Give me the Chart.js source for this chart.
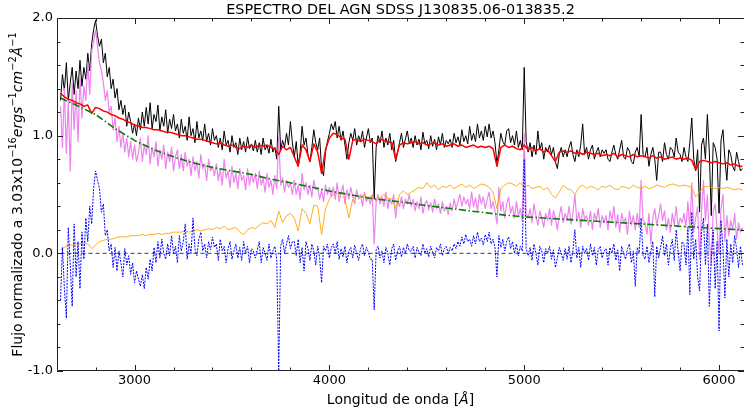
<!DOCTYPE html>
<html>
<head>
<meta charset="utf-8">
<script src="https://cdn.jsdelivr.net/npm/chart.js@4.4.0/dist/chart.umd.min.js"></script>
<style>
  html, body { margin: 0; padding: 0; background: #fff; }
  #wrap { width: 744px; height: 411px; }
</style>
</head>
<body>
<div id="wrap"><canvas id="myChart" width="744" height="411"></canvas></div>
<script>
const fineStart = 2620, fineStep = 10;
// model components sampled every 20 A from 2620 A
const coarseStart = 2620, coarseStep = 20;

const observed = [
  1.30,1.52,1.38,1.62,1.30,1.45,1.58,1.35,1.55,1.40, 1.64,1.42,1.58,1.48,1.70,1.55,1.78,1.90,1.98,1.85,
  1.76,1.82,1.62,1.70,1.50,1.58,1.40,1.48,1.32,1.40, 1.22,1.30,1.18,1.26,1.08,1.20,1.12,1.02,1.10,1.00,
  1.15,1.05,1.20,1.08,1.24,1.10,1.28,1.06,1.18,1.12, 1.26,1.04,1.16,1.08,1.22,1.02,1.14,1.06,1.18,1.04,
  1.10,0.98,1.14,1.02,1.08,0.96,1.16,1.00,1.06,0.94, 1.12,0.98,1.04,0.96,1.10,0.95,1.02,0.92,1.06,0.96,
  1.00,0.90,0.98,0.88,1.04,0.92,0.96,0.86,1.00,0.90, 0.94,0.84,0.98,0.88,0.95,0.86,0.99,0.89,0.93,0.87,
  0.96,0.86,0.94,0.84,0.98,0.88,0.92,0.85,0.97,0.86, 0.90,0.80,1.25,0.88,0.96,0.90,1.02,0.92,1.12,0.94,
  0.82,0.95,0.74,0.86,1.08,0.92,0.98,0.84,0.78,0.90, 1.05,0.94,0.88,0.98,0.72,0.66,0.86,0.95,1.02,1.10,
  1.05,1.12,0.98,1.08,0.96,1.04,0.92,0.80,0.94,1.02, 0.96,1.06,0.92,1.00,0.95,1.04,0.90,0.98,1.06,0.94,
  0.98,0.46,0.90,1.00,0.94,1.04,0.90,0.98,0.92,1.02, 0.88,0.96,0.78,0.86,0.94,1.02,0.90,0.97,1.04,0.93,
  0.98,0.90,1.00,0.92,0.97,0.88,1.03,0.93,0.96,0.89, 1.00,0.91,0.97,0.88,0.99,0.92,1.02,0.90,0.96,0.93,
  0.97,0.90,1.02,0.94,0.99,0.92,1.05,0.95,1.00,0.93, 1.08,0.96,1.02,0.95,1.10,0.98,1.04,0.96,1.08,0.99,
  1.10,0.98,1.04,0.94,0.76,0.88,1.02,0.95,0.92,1.04, 1.06,0.94,1.00,0.92,1.04,0.90,0.96,0.88,1.58,0.95,
  0.86,0.94,0.82,0.92,0.84,1.04,0.88,0.94,0.80,0.90, 0.86,0.92,0.84,0.90,0.78,0.72,0.84,0.90,0.82,0.88,
  0.82,0.90,0.95,0.84,0.78,0.88,0.82,0.92,1.10,0.84, 0.90,0.80,0.88,0.92,0.80,0.86,0.90,0.82,0.88,0.85,
  0.88,0.80,0.78,0.86,0.92,0.84,0.80,0.88,0.96,0.82, 0.80,0.90,0.87,0.78,0.76,0.86,0.90,0.82,1.18,0.84,
  0.82,0.90,0.74,0.84,0.90,0.80,0.62,0.86,0.86,0.78, 0.94,0.84,0.80,0.90,0.88,0.82,0.98,0.86,0.84,0.78,
  0.90,0.82,0.78,0.94,1.15,0.80,0.70,0.88,0.35,0.92, 0.98,0.80,1.18,0.86,0.32,0.94,0.90,0.80,0.34,0.96,
  1.05,0.80,0.62,0.88,0.84,0.74,0.70,0.86,0.78,0.70,0.72
];

const agn = [
  1.25,0.90,1.40,0.85,1.30,0.70,1.45,1.05,1.38,0.95, 1.50,1.15,1.42,1.30,1.62,1.35,1.72,1.80,1.90,1.76,
  1.62,1.55,1.45,1.30,1.38,1.20,1.25,1.05,1.15,0.95, 1.08,0.90,1.02,0.86,0.98,0.82,0.95,0.80,0.92,0.78,
  0.85,0.98,0.78,0.92,0.84,1.00,0.76,0.90,0.82,0.95, 0.74,0.88,0.80,0.92,0.72,0.86,0.78,0.90,0.70,0.82,
  0.88,0.72,0.84,0.70,0.86,0.74,0.80,0.66,0.82,0.70, 0.78,0.64,0.84,0.72,0.76,0.62,0.80,0.70,0.74,0.66,
  0.76,0.62,0.72,0.58,0.80,0.64,0.70,0.56,0.74,0.60, 0.68,0.55,0.72,0.62,0.66,0.54,0.72,0.58,0.68,0.60,
  0.68,0.55,0.70,0.58,0.64,0.52,0.68,0.56,0.62,0.50, 0.66,0.55,1.00,0.58,0.64,0.52,0.62,0.56,0.60,0.50,
  0.62,0.50,0.58,0.46,0.68,0.54,0.60,0.50,0.58,0.48, 0.62,0.54,0.56,0.46,0.54,0.44,0.58,0.50,0.56,0.48,
  0.56,0.46,0.60,0.44,0.52,0.58,0.42,0.54,0.46,0.56, 0.48,0.42,0.54,0.46,0.50,0.40,0.52,0.44,0.48,0.42,
  0.50,0.08,0.44,0.50,0.42,0.48,0.40,0.52,0.38,0.46, 0.42,0.50,0.30,0.44,0.40,0.48,0.38,0.46,0.42,0.50,
  0.40,0.46,0.36,0.44,0.38,0.48,0.34,0.42,0.45,0.37, 0.43,0.35,0.46,0.38,0.42,0.34,0.44,0.36,0.40,0.33,
  0.43,0.36,0.46,0.38,0.44,0.50,0.40,0.48,0.42,0.46, 0.38,0.52,0.40,0.47,0.36,0.50,0.42,0.48,0.38,0.46,
  0.52,0.38,0.44,0.36,0.25,0.56,0.36,0.44,0.30,0.42, 0.48,0.34,0.40,0.30,0.44,0.32,0.38,0.28,1.02,0.34,
  0.30,0.38,0.26,0.42,0.32,0.24,0.36,0.30,0.22,0.34, 0.28,0.38,0.24,0.36,0.30,0.20,0.32,0.40,0.26,0.34,
  0.28,0.40,0.25,0.34,0.50,0.27,0.35,0.22,0.38,0.29, 0.32,0.24,0.36,0.20,0.34,0.28,0.38,0.22,0.32,0.26,
  0.32,0.20,0.36,0.28,0.40,0.22,0.33,0.18,0.34,0.26, 0.30,0.16,0.36,0.24,0.32,0.20,0.34,0.22,0.62,0.28,
  0.26,0.16,0.34,0.08,0.30,0.38,0.24,0.32,0.42,0.28, 0.36,0.20,0.30,0.18,0.34,0.24,0.40,0.22,0.30,0.26,
  0.34,0.22,0.44,0.20,0.60,0.18,0.30,0.40,-0.05,0.36, 0.62,0.28,0.50,0.10,-0.10,0.36,0.42,0.20,0.00,0.38,
  0.50,0.10,0.32,0.15,0.28,0.20,0.34,0.12,0.26,0.18,0.22
];

const residual = [
  -0.40,0.05,-0.30,-0.55,0.22,-0.10,-0.45,0.25,-0.20,0.10, -0.30,0.18,-0.05,0.30,0.10,0.40,0.25,0.55,0.70,0.62,
  0.55,0.35,0.42,0.15,0.20,0.02,0.08,-0.12,0.05,-0.15, 0.02,-0.08,-0.20,0.04,-0.10,-0.02,-0.18,-0.08,-0.25,-0.15,
  -0.22,-0.28,-0.18,-0.30,-0.12,-0.22,-0.05,-0.15,0.05,-0.08, 0.10,-0.04,0.12,0.00,-0.05,0.08,-0.02,0.15,0.00,0.06,
  -0.08,0.15,0.02,0.10,0.25,-0.05,0.08,0.00,0.30,0.04, -0.02,0.12,0.18,0.02,0.08,-0.04,0.10,0.03,0.14,0.05,
  0.08,-0.06,0.12,0.02,0.06,-0.08,0.04,0.10,-0.05,0.02, 0.08,-0.04,0.05,-0.06,0.10,0.00,0.06,-0.08,0.04,0.02,
  -0.04,0.03,0.10,-0.08,0.05,0.00,-0.06,0.08,-0.04,0.02, 0.06,-0.05,-1.00,0.06,0.12,0.00,0.08,0.15,0.04,0.10,
  0.10,-0.02,0.12,-0.08,0.05,-0.15,0.10,0.04,-0.06,0.08, 0.02,-0.10,0.06,-0.04,-0.25,0.06,0.02,0.08,-0.04,0.05,
  0.08,0.00,0.10,-0.05,0.04,-0.03,0.06,-0.08,0.02,0.05, -0.04,0.07,0.00,-0.06,0.04,0.08,-0.02,0.05,0.01,-0.05,
  -0.05,-0.48,0.03,0.06,-0.04,0.02,-0.08,0.05,0.00,-0.10, 0.04,0.08,-0.06,0.02,0.06,-0.03,0.05,0.00,0.08,0.02,
  0.02,0.06,-0.04,0.05,0.01,-0.02,0.08,0.00,0.04,-0.03, 0.06,0.01,-0.04,0.05,0.02,0.08,-0.02,0.04,0.06,0.00,
  0.05,0.02,0.08,0.04,0.10,0.06,0.14,0.08,0.16,0.10, 0.12,0.06,0.15,0.08,0.18,0.10,0.13,0.07,0.16,0.10,
  0.18,0.08,0.12,0.05,-0.20,0.15,0.05,0.12,0.02,0.10, 0.14,0.04,0.10,0.00,0.08,-0.02,0.06,0.02,0.80,0.04,
  -0.02,0.05,-0.06,0.08,0.00,-0.10,0.06,0.02,-0.08,0.04, 0.00,0.06,-0.05,0.03,-0.12,-0.04,0.05,0.00,-0.06,0.04,
  -0.05,0.06,-0.08,0.02,0.20,-0.04,0.05,-0.12,0.06,0.00, 0.04,-0.06,0.08,-0.02,0.05,-0.10,0.03,0.06,-0.04,0.02,
  0.04,-0.10,0.05,0.00,0.08,-0.06,0.03,-0.15,0.06,0.00, -0.05,0.04,0.08,-0.08,0.02,-0.28,0.05,0.00,0.30,-0.02,
  -0.05,0.06,-0.08,0.02,0.10,-0.37,0.06,-0.04,0.05,0.15, -0.02,0.08,-0.10,0.04,0.12,-0.06,0.20,0.02,-0.15,0.10,
  0.08,-0.10,0.22,-0.35,0.35,-0.05,0.12,-0.20,-0.32,0.18, 0.30,-0.10,0.25,-0.45,-0.05,0.20,-0.30,0.10,-0.66,0.28,
  0.05,-0.38,0.12,-0.20,0.08,-0.08,0.15,0.04,-0.12,0.06,-0.10
];

const fitted = [
  1.36,1.33,1.31,1.30,1.28,1.27,1.25,1.26,1.19,1.24,
  1.23,1.21,1.20,1.18,1.17,1.15,1.14,1.12,1.11,1.09,
  1.08,1.07,1.07,1.06,1.05,1.05,1.04,1.03,1.03,1.02,
  1.01,1.00,1.00,0.99,0.98,0.97,0.97,0.96,0.95,0.94,
  0.93,0.94,0.92,0.91,0.92,0.90,0.89,0.91,0.90,0.92,
  0.90,0.92,0.91,0.92,0.90,0.89,0.84,0.91,0.88,0.90,
  0.82,0.74,0.92,0.88,0.78,0.93,0.86,0.68,0.88,0.98,
  1.02,1.01,0.98,0.97,0.80,0.96,0.97,0.95,0.97,0.96,
  0.95,0.93,0.97,0.96,0.95,0.94,0.80,0.92,0.94,0.93,
  0.94,0.95,0.93,0.94,0.92,0.93,0.94,0.92,0.93,0.91,
  0.92,0.93,0.91,0.92,0.90,0.91,0.92,0.90,0.91,0.90,
  0.91,0.89,0.74,0.90,0.92,0.90,0.91,0.89,0.88,0.92,
  0.88,0.90,0.87,0.89,0.86,0.88,0.83,0.78,0.86,0.87,
  0.86,0.87,0.85,0.86,0.84,0.86,0.85,0.84,0.85,0.83,
  0.84,0.83,0.85,0.82,0.84,0.83,0.82,0.84,0.82,0.83,
  0.82,0.81,0.83,0.81,0.82,0.80,0.81,0.82,0.80,0.81,
  0.80,0.81,0.79,0.71,0.78,0.79,0.78,0.77,0.78,0.77,
  0.76,0.77,0.75,0.76,0.74,0.74
];

const host = [
  0.03,0.05,0.07,0.07,0.08,0.08,0.09,0.08,0.04,0.07,
  0.10,0.11,0.12,0.12,0.13,0.14,0.14,0.14,0.15,0.15,
  0.15,0.16,0.15,0.16,0.16,0.17,0.16,0.17,0.17,0.18,
  0.18,0.18,0.19,0.18,0.19,0.20,0.19,0.20,0.21,0.20,
  0.22,0.21,0.23,0.20,0.21,0.22,0.18,0.16,0.20,0.22,
  0.21,0.24,0.26,0.25,0.28,0.22,0.36,0.26,0.32,0.34,
  0.30,0.19,0.38,0.34,0.25,0.41,0.40,0.16,0.38,0.46,
  0.50,0.51,0.49,0.46,0.30,0.46,0.49,0.48,0.50,0.47,
  0.49,0.44,0.48,0.50,0.47,0.46,0.38,0.50,0.53,0.50,
  0.52,0.54,0.56,0.55,0.60,0.56,0.58,0.54,0.57,0.56,
  0.58,0.55,0.57,0.59,0.56,0.58,0.55,0.57,0.59,0.58,
  0.56,0.52,0.38,0.55,0.58,0.60,0.59,0.57,0.60,0.56,
  0.58,0.55,0.56,0.57,0.54,0.56,0.50,0.47,0.52,0.58,
  0.55,0.54,0.50,0.56,0.58,0.55,0.57,0.56,0.54,0.57,
  0.56,0.58,0.55,0.54,0.57,0.56,0.55,0.58,0.56,0.55,
  0.57,0.55,0.56,0.58,0.57,0.56,0.58,0.59,0.58,0.57,
  0.58,0.57,0.56,0.48,0.52,0.56,0.57,0.56,0.55,0.56,
  0.55,0.56,0.55,0.54,0.55,0.54
];

// power law continuum
const powerWave = [2620,2700,2800,2900,3000,3100,3200,3300,3400,3500,3600,3700,3800,3900,4000,4100,4200,4300,
                   4400,4500,4600,4700,4800,4900,5000,5100,5200,5300,5400,5500,5600,5700,5800,5900,6000,6120];
const powerLaw = [1.32,1.26,1.18,1.06,0.96,0.88,0.82,0.77,0.73,0.70,0.67,0.63,0.60,0.565,0.53,0.50,0.47,0.45,
                  0.43,0.405,0.385,0.365,0.345,0.325,0.31,0.30,0.29,0.28,0.27,0.26,0.25,0.24,0.23,0.22,0.21,0.20];

const zeroWave = [2620, 6120];
const zeroLine = [0, 0];

const xTickLabels = [3000, 4000, 5000, 6000];
const yTickLabels = [-1, 0, 1, 2];
const xMinorStep = 200, yMinorStep = 0.2;

const waveFine = observed.map((_, i) => fineStart + fineStep * i);
const waveCoarse = fitted.map((_, i) => coarseStart + coarseStep * i);

function pts(xs, ys) {
    return ys.map((v, i) => ({x: xs[i], y: v}));
}

function series(label, xs, ys, color, width, order, dash) {
    return {
        label: label,
        data: pts(xs, ys),
        borderColor: color,
        borderWidth: width,
        borderDash: dash || [],
        borderJoinStyle: 'round',
        pointRadius: 0,
        fill: false,
        tension: 0,
        order: order
    };
}

// text with italics and superscripts, like matplotlib mathtext
function richText(ctx, parts, x, y, size, rotate) {
    ctx.save();
    ctx.translate(x, y);
    if (rotate) ctx.rotate(-Math.PI / 2);
    ctx.textBaseline = 'alphabetic';
    ctx.textAlign = 'left';
    ctx.fillStyle = '#000';
    const fontOf = p => (p.it ? 'italic ' : '') + (p.sup ? size * 0.7 : size) + 'px "DejaVu Sans"';
    let total = 0;
    parts.forEach(p => { ctx.font = fontOf(p); total += ctx.measureText(p.t).width; });
    let cx = -total / 2;
    parts.forEach(p => {
        ctx.font = fontOf(p);
        ctx.fillText(p.t, cx, p.sup ? -size * 0.42 : 0);
        cx += ctx.measureText(p.t).width;
    });
    ctx.restore();
}

const framePlugin = {
    id: 'framePlugin',
    afterDraw(chart) {
        const ctx = chart.ctx, a = chart.chartArea;
        const xs = chart.scales.x, ys = chart.scales.y;
        ctx.save();
        ctx.strokeStyle = '#222';
        ctx.lineWidth = 1;
        // left, top and bottom spines (the right one sits just outside the canvas)
        ctx.beginPath();
        ctx.moveTo(a.right, a.top + 0.5); ctx.lineTo(a.left + 0.5, a.top + 0.5);
        ctx.lineTo(a.left + 0.5, a.bottom - 0.5); ctx.lineTo(a.right, a.bottom - 0.5);
        ctx.stroke();
        ctx.beginPath();
        for (let k = Math.ceil(xs.min / xMinorStep); k * xMinorStep <= xs.max; k++) {
            const v = k * xMinorStep;
            const px = Math.round(xs.getPixelForValue(v)) + 0.5;
            const len = v % 1000 === 0 ? 6 : 3.5;
            ctx.moveTo(px, a.bottom); ctx.lineTo(px, a.bottom - len);
            ctx.moveTo(px, a.top); ctx.lineTo(px, a.top + len);
        }
        for (let k = Math.ceil(ys.min / yMinorStep - 1e-6); k * yMinorStep <= ys.max + 1e-6; k++) {
            const py = Math.round(ys.getPixelForValue(k * yMinorStep)) + 0.5;
            const len = k % 5 === 0 ? 6 : 3.5;
            ctx.moveTo(a.left, py); ctx.lineTo(a.left + len, py);
            ctx.moveTo(a.right, py); ctx.lineTo(a.right - len, py);
        }
        ctx.stroke();
        ctx.restore();

        const midX = (a.left + a.right) / 2, midY = (a.top + a.bottom) / 2;
        richText(ctx, [{t: 'ESPECTRO DEL AGN SDSS J130835.06-013835.2'}], midX, 14, 14.4, false);
        richText(ctx, [{t: 'Longitud de onda ['}, {t: 'Å', it: true}, {t: ']'}], midX, 404, 14, false);
        richText(ctx, [
            {t: 'Flujo normalizado a 3.03x10'}, {t: '\u221216', sup: true},
            {t: 'ergs', it: true}, {t: '\u22121', sup: true},
            {t: 'cm', it: true}, {t: '\u22122', sup: true},
            {t: 'Å', it: true}, {t: '\u22121', sup: true}
        ], 22, midY, 14, true);
    }
};

Chart.defaults.font.family = '"DejaVu Sans"';
Chart.defaults.color = '#000';

const config = {
    type: 'line',
    data: {
        datasets: [
            series('cero', zeroWave, zeroLine, 'rgba(0,0,0,0.85)', 0.9, 0, [4, 3]),
            series('ley de potencias', powerWave, powerLaw, '#008000', 1.6, 1, [7, 2.5, 1.5, 2.5]),
            series('residuo', waveFine, residual, '#0000ff', 1.0, 2, [2, 1.2]),
            series('ajuste', waveCoarse, fitted, '#ff0000', 1.5, 3),
            series('galaxia', waveCoarse, host, '#ffa500', 0.9, 4),
            series('AGN', waveFine, agn, '#ee82ee', 1.2, 5),
            series('observado', waveFine, observed, '#000000', 1.0, 6)
        ]
    },
    options: {
        responsive: false,
        animation: false,
        devicePixelRatio: 1,
        events: [],
        layout: { padding: { top: 18, right: 0, left: 0, bottom: 0 } },
        plugins: { legend: { display: false }, tooltip: { enabled: false }, title: { display: false } },
        scales: {
            x: {
                type: 'linear',
                min: 2602,
                max: 6128,
                grid: { display: false, drawTicks: false },
                border: { display: false },
                ticks: {
                    autoSkip: false,
                    maxRotation: 0,
                    padding: 2,
                    font: { size: 13 },
                    callback: v => String(v)
                },
                afterBuildTicks: s => { s.ticks = xTickLabels.map(v => ({value: v})); },
                afterFit: s => { s.height = 40; }
            },
            y: {
                type: 'linear',
                min: -1,
                max: 2,
                grid: { display: false, drawTicks: false },
                border: { display: false },
                ticks: {
                    autoSkip: false,
                    padding: 4,
                    font: { size: 13 },
                    callback: v => v.toFixed(1)
                },
                afterBuildTicks: s => { s.ticks = yTickLabels.map(v => ({value: v})); },
                afterFit: s => { s.width = 57; }
            }
        }
    },
    plugins: [framePlugin]
};

const myChart = new Chart(document.getElementById('myChart'), config);
</script>
</body>
</html>
